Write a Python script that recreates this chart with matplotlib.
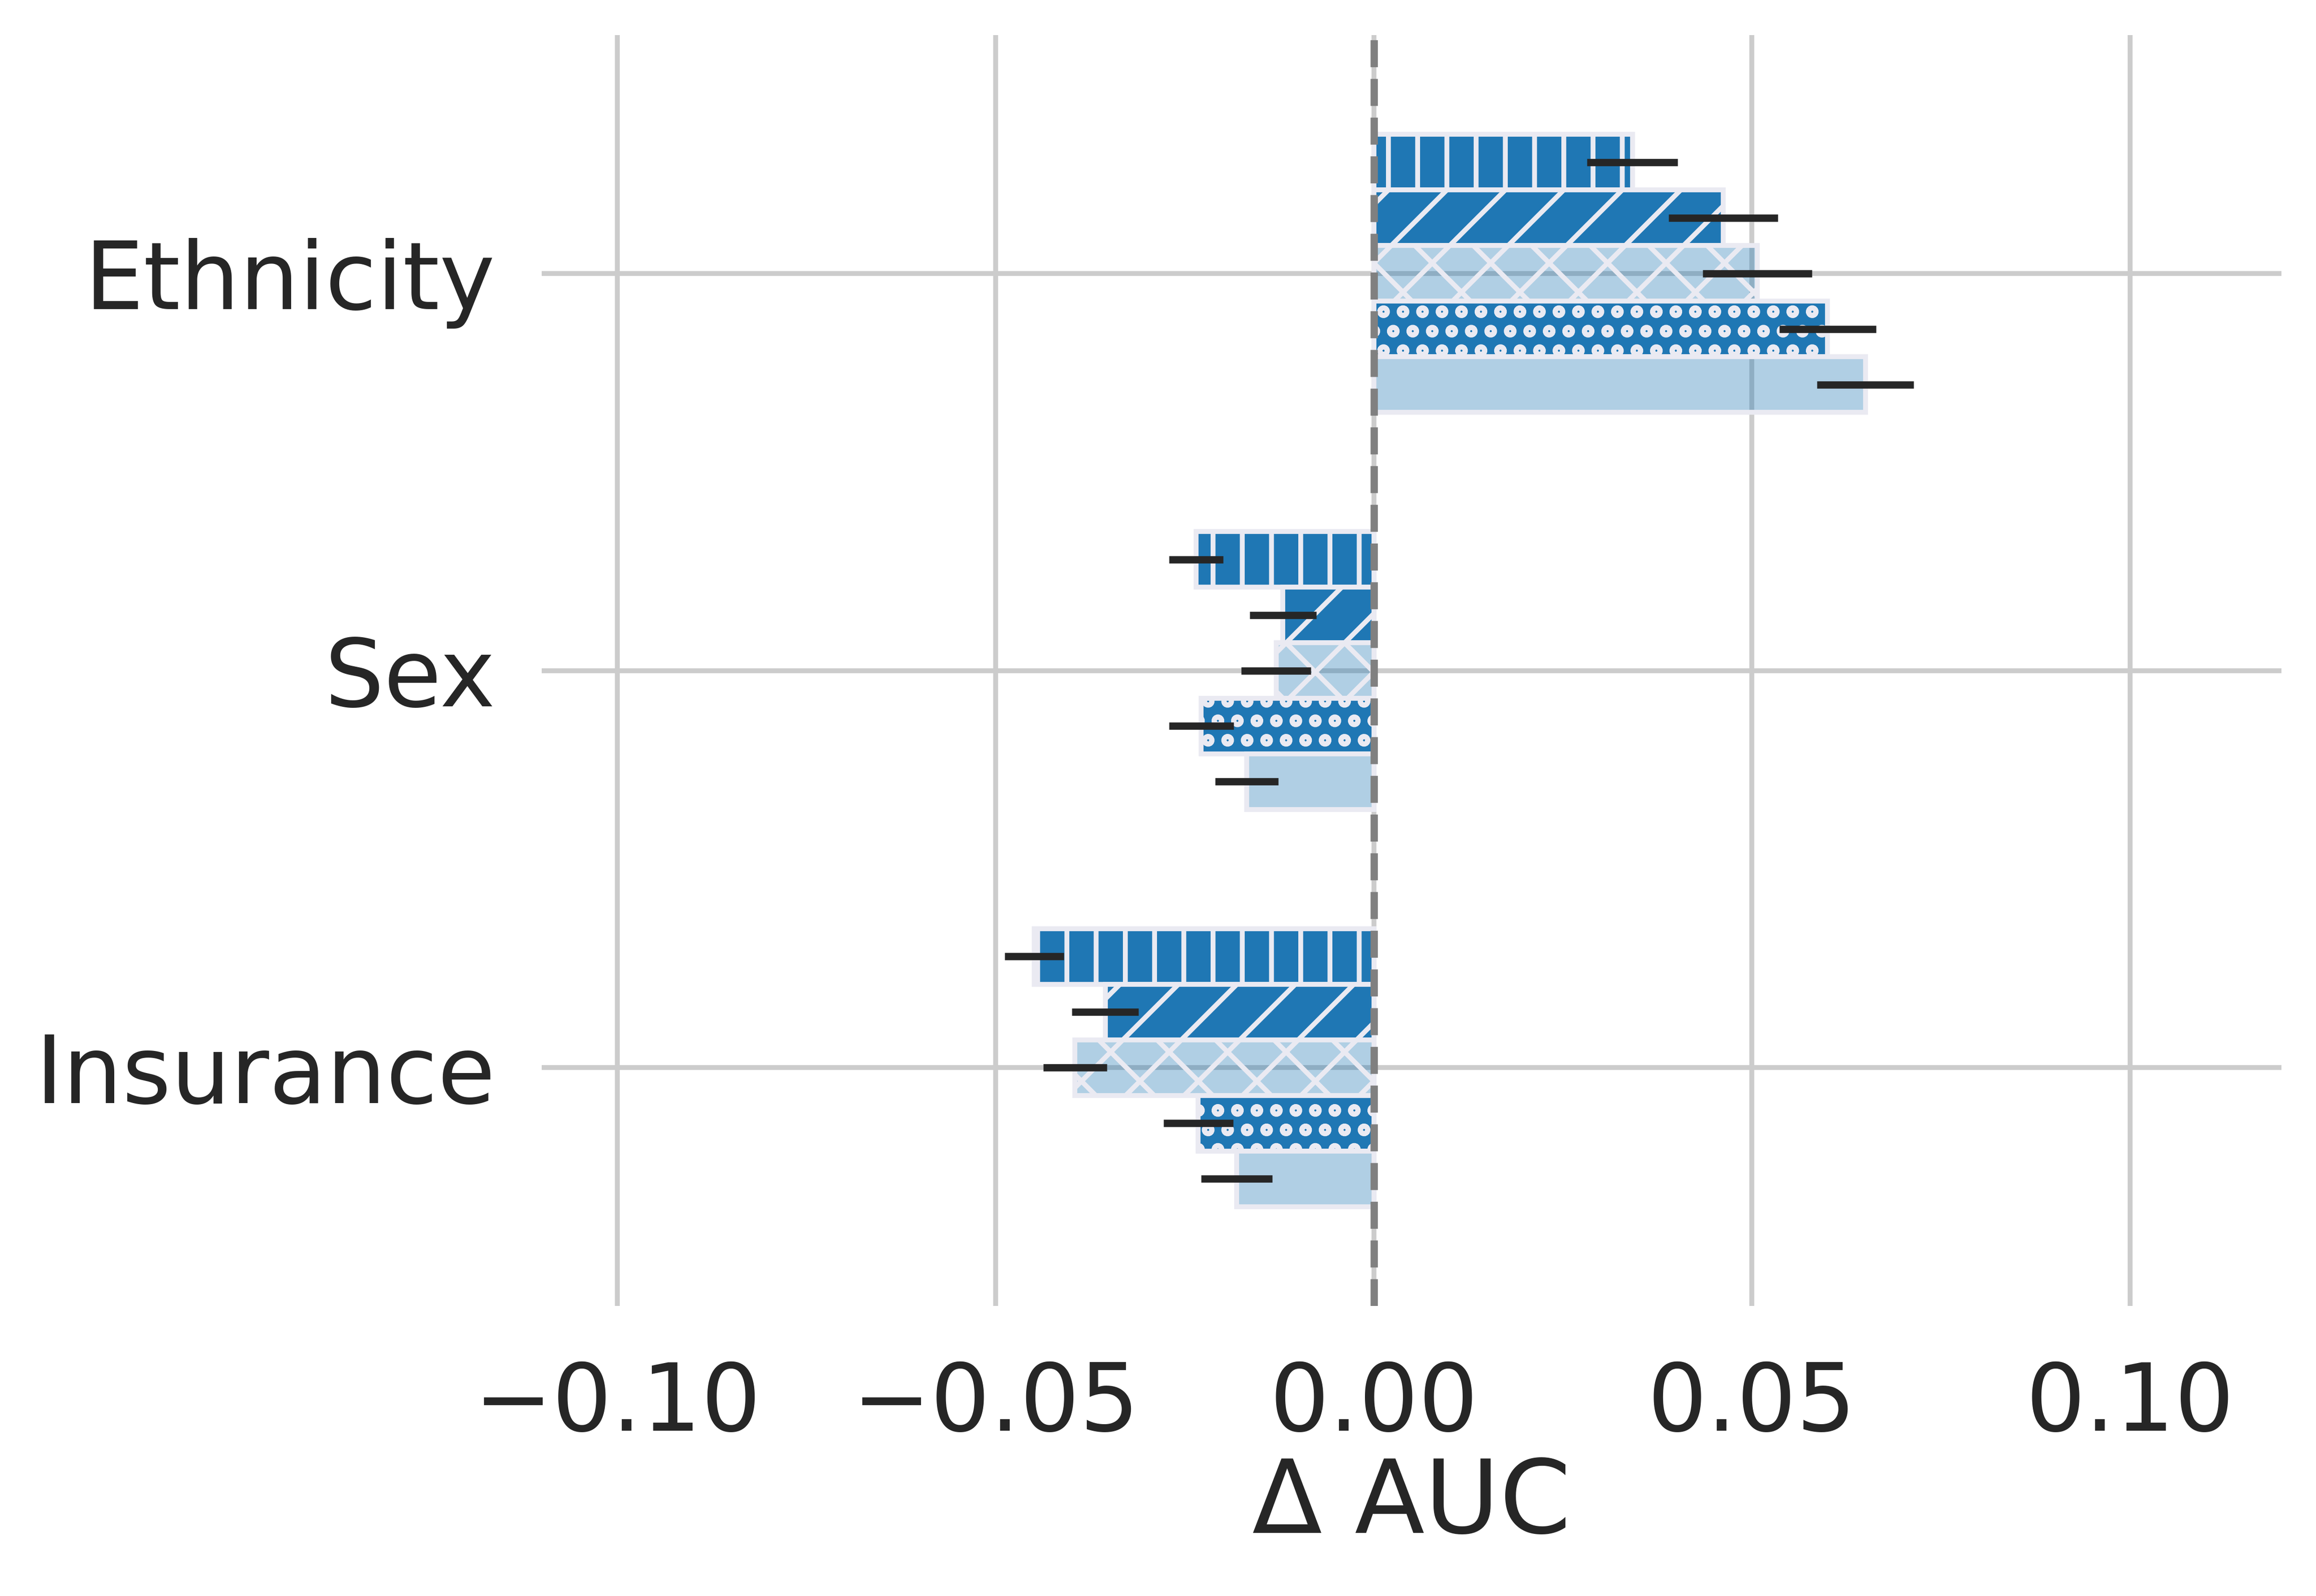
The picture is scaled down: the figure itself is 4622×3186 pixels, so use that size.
import numpy as np
import matplotlib
matplotlib.use("Agg")
import matplotlib.pyplot as plt
import seaborn as sns

# ---- data ----
categories = ["Ethnicity", "Sex", "Insurance"]
series_names = ["model_a", "model_b", "model_c", "model_d", "model_e"]
delta_a = [0.0342, -0.0235, -0.0449]
delta_b = [0.0462, -0.0120, -0.0355]
delta_c = [0.0507, -0.0129, -0.0395]
delta_d = [0.0600, -0.0228, -0.0232]
delta_e = [0.0650, -0.0168, -0.0181]
err_a = [0.0060, 0.0036, 0.0039]
err_b = [0.0072, 0.0044, 0.0044]
err_c = [0.0072, 0.0046, 0.0042]
err_d = [0.0064, 0.0043, 0.0046]
err_e = [0.0064, 0.0042, 0.0047]
xticks = [-0.10, -0.05, 0.00, 0.05, 0.10]

values = [delta_a, delta_b, delta_c, delta_d, delta_e]
errors = [err_a, err_b, err_c, err_d, err_e]

# ---- style ----
sns.set_theme(style="whitegrid", font_scale=1.75)
plt.rcParams["font.family"] = ["DejaVu Sans"]

blue = matplotlib.colors.to_rgba("#1f77b4")
light = matplotlib.colors.to_rgba("#1f77b4", 0.35)
faces = [blue, blue, light, blue, light]
hatches = ["||", "//", "xx", "ooo", ""]
edge = "#EAEAF2"

DPI = 700
fig = plt.figure(figsize=(4622 / DPI, 3186 / DPI), dpi=DPI)
ax = fig.add_axes([0.2339, 0.18173, 0.7512, 0.7963])

bar_h = 0.14
y = np.arange(len(categories))
n = len(values)
for j in range(n):
    pos = y + (j - (n - 1) / 2) * bar_h
    ax.barh(pos, values[j], height=bar_h, color=faces[j], edgecolor=edge,
            linewidth=1.0, hatch=hatches[j], label=series_names[j], zorder=2)
    ax.errorbar(values[j], pos, xerr=errors[j], fmt="none", ecolor="#262626",
                elinewidth=1.5, capsize=0, zorder=3)

ax.axvline(0, color="gray", linestyle="--", linewidth=1.5, zorder=4)

ax.set_xlim(-0.11, 0.12)
ax.set_ylim(2.6, -0.6)
ax.set_yticks(y)
ax.set_yticklabels(categories)
ax.set_xticks(xticks)
ax.set_xlabel("Δ AUC", fontsize=21, labelpad=1)
ax.tick_params(axis="x", length=0, pad=11.0, labelsize=19.25)
ax.tick_params(axis="y", length=0, pad=9.5, labelsize=19.25)
for s in ax.spines.values():
    s.set_visible(False)
ax.grid(True, color="#CCCCCC", linewidth=1.0)
ax.set_axisbelow(True)

fig.savefig("out.png", dpi=DPI)
